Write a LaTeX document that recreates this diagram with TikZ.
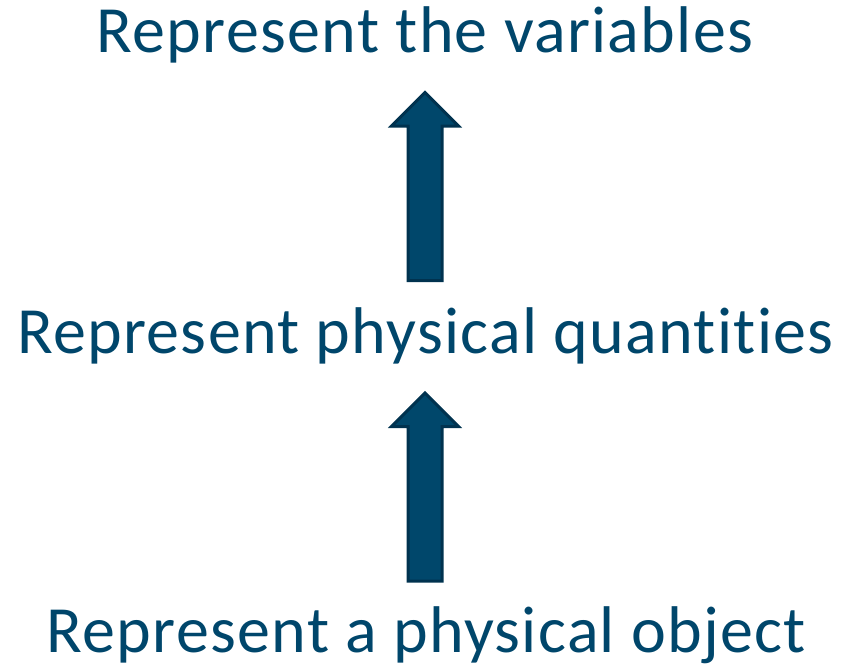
\documentclass[tikz,border=0pt]{standalone}
\usepackage{fontspec}
\setmainfont{Carlito}[Ligatures={NoCommon}, LetterSpace=2.0]
\usetikzlibrary{shapes.arrows}
\definecolor{leveltext}{HTML}{00466B}
\definecolor{arrowfill}{HTML}{00476B}
\definecolor{arrowedge}{HTML}{00324F}
\tikzset{
  level/.style={anchor=base, text=leveltext, inner sep=0pt, font=\fontsize{66}{72}\selectfont},
  uparrow/.style={single arrow, shape border rotate=90, fill=arrowfill, draw=arrowedge, line width=3pt,
    inner sep=15.5pt, single arrow head extend=16.5pt, minimum height=188pt}
}
\begin{document}
\begin{tikzpicture}[x=1pt,y=-1pt]
            \useasboundingbox (0,0) rectangle (842,666);
            \node [level] (variables) at (425,53) {Represent the variables};
            \node [level] (quantities) at (425.5,353) {Represent physical quantities};
            \node [level] (object) at (426.5,652) {Represent a physical object};
            \node [uparrow] (up1) at (425,195) {};
            \node [uparrow] (up2) at (425,495.5) {};
        \end{tikzpicture}
\end{document}
